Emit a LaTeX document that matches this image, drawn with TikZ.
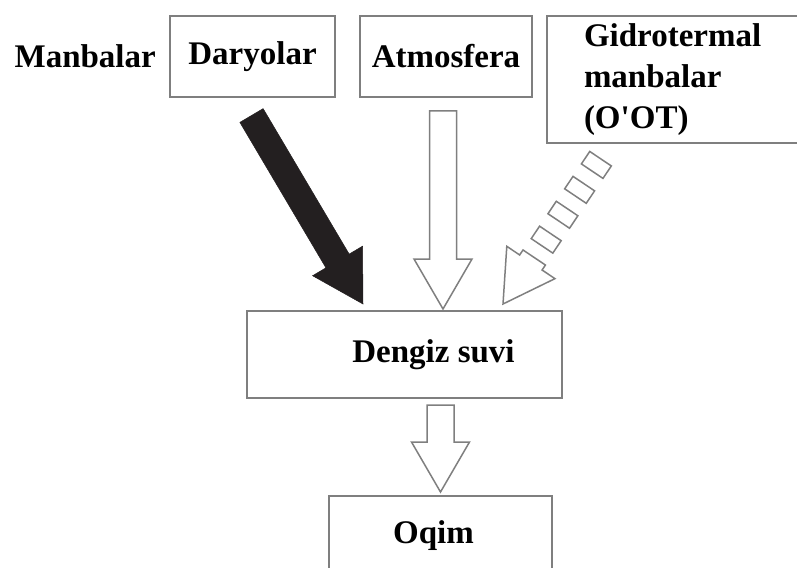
\documentclass[tikz,border=0pt]{standalone}
\usepackage{fontspec}
\setmainfont{Liberation Serif}
\usetikzlibrary{positioning, calc}
\definecolor{edgegray}{HTML}{7F7F7F}
\definecolor{inkblack}{HTML}{231F20}
\tikzset{
  box/.style={draw=edgegray, line width=2pt, rectangle, fill=white},
  srctext/.style={inner sep=0pt},
  hollow/.style={draw=edgegray, line width=1.5pt, fill=white, line join=miter},
  heavy/.style={draw=inkblack, fill=inkblack, line width=0.5pt},
}
% block arrow from tail (#2) to tip (#3)
\newcommand{\blockarrow}[3][]{%
  \coordinate (hb) at ($(#3)!50pt!(#2)$);
  \draw[#1] ($(#2)!13.5pt!90:(#3)$) -- ($(hb)!13.5pt!90:(#3)$) -- ($(hb)!29pt!90:(#3)$) -- (#3)
    -- ($(hb)!29pt!-90:(#3)$) -- ($(hb)!13.5pt!-90:(#3)$) -- ($(#2)!13.5pt!-90:(#3)$) -- cycle;}
% striped arrow from tail (#1) to tip (#2)
\newcommand{\stripearrow}[2]{%
  \coordinate (hb) at ($(#2)!50pt!(#1)$);
  \coordinate (se) at ($(#2)!56pt!(#1)$);
  \draw[hollow] ($(se)!13.5pt!90:(#2)$) -- ($(hb)!13.5pt!90:(#2)$) -- ($(hb)!29pt!90:(#2)$) -- (#2)
    -- ($(hb)!29pt!-90:(#2)$) -- ($(hb)!13.5pt!-90:(#2)$) -- ($(se)!13.5pt!-90:(#2)$) -- cycle;
  \foreach \d/\e in {70/85, 100/115, 130/145, 160/175}{
    \coordinate (sa) at ($(#2)!\d pt!(#1)$);
    \coordinate (sb) at ($(#2)!\e pt!(#1)$);
    \draw[hollow] ($(sa)!13pt!90:(#2)$) -- ($(sb)!13pt!90:(#2)$) -- ($(sb)!13pt!-90:(#2)$) -- ($(sa)!13pt!-90:(#2)$) -- cycle;
  }}

\begin{document}
\begin{tikzpicture}[x=1pt, y=-1pt, font=\fontsize{33}{41}\selectfont\bfseries]
  \useasboundingbox (0,0) rectangle (797,567);
  \clip (0,0) rectangle (797,567);

  % sources
  \node[box, minimum width=165pt, minimum height=81pt] (daryolar) at (252.5,56.5) {Daryolar};
  \node[box, minimum width=172pt, minimum height=81pt, right=23pt of daryolar] (atmosfera) {Atmosfera};
  \node[box, minimum height=127pt, text width=190pt, inner xsep=37pt, align=left,
        right=13pt of atmosfera.north east, anchor=north west] (gidro) {Gidrotermal\\manbalar\\(O\textquotesingle OT)};
  \node[srctext, left=13pt of daryolar] (manbalar) {Manbalar};

  % sea water and outflow
  \node[box, minimum width=315pt, minimum height=87pt] (dengiz) at (404.5,354.5) {\hspace*{58pt}Dengiz suvi};
  \node[box, minimum width=223pt, minimum height=80pt] (oqim) at (440.5,536) {\hspace*{-14pt}Oqim};

  % arrows
  \coordinate (rivtail) at ($(daryolar.south)+(-1,17.5)$);
  \coordinate (rivtip) at ($(dengiz.north)+(-41.5,-6)$);
  \blockarrow[heavy]{rivtail}{rivtip}

  \coordinate (airtail) at ($(atmosfera.south)+(-3,13)$);
  \coordinate (airtip) at ($(airtail |- dengiz.north)+(0,-1)$);
  \blockarrow[hollow]{airtail}{airtip}

  \coordinate (ventail) at ($(gidro.south west)+(55,14)$);
  \coordinate (ventip) at ($(dengiz.north)+(98.5,-6)$);
  \stripearrow{ventail}{ventip}

  \coordinate (outtail) at ($(dengiz.south)+(36,6)$);
  \coordinate (outtip) at ($(outtail |- oqim.north)+(0,-3)$);
  \blockarrow[hollow]{outtail}{outtip}
\end{tikzpicture}
\end{document}
